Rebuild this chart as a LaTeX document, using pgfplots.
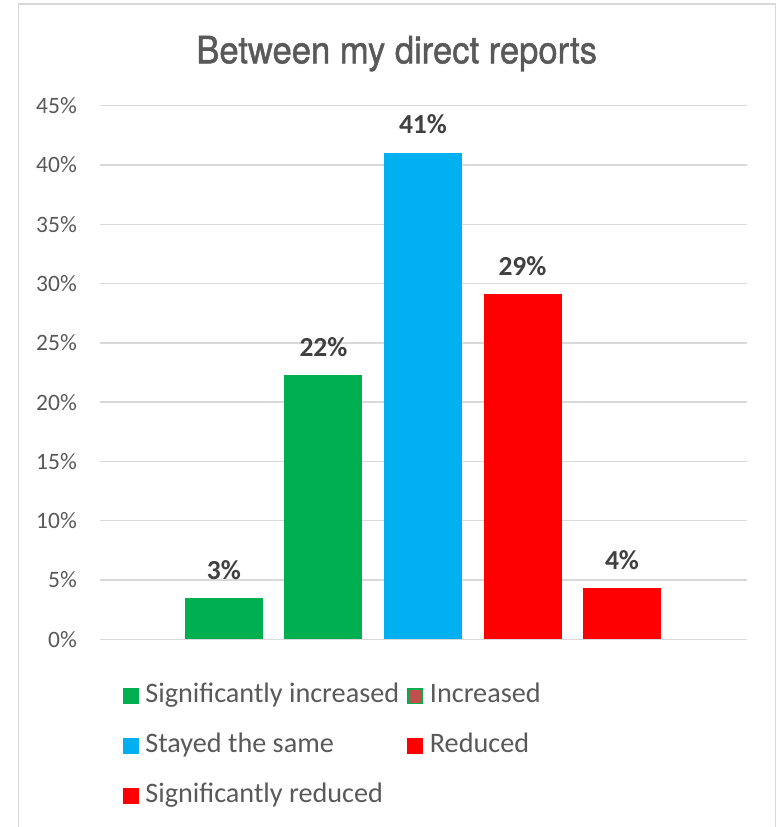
\documentclass[border=0pt]{standalone}
\usepackage{pgfplots}
\pgfplotsset{compat=1.18}
\usepackage{fontspec}
\setmainfont{Carlito}
\newfontfamily\titlefont[FakeStretch=0.92, FakeBold=1.2]{TeX Gyre Heros}
\definecolor{cgreen}{HTML}{00B050}
\definecolor{cblue}{HTML}{00B0F0}
\definecolor{cred}{HTML}{FF0000}
\definecolor{cbrown}{HTML}{C0504D}
\definecolor{gridgray}{HTML}{D9D9D9}
\definecolor{textgray}{HTML}{595959}
\definecolor{labelgray}{HTML}{404040}
\begin{document}
\begin{tikzpicture}
\path[use as bounding box] (0pt,0pt) rectangle (779pt,827pt);
\draw[color=gridgray, line width=1.5pt] (18.5pt,-10pt) -- (18.5pt,823pt) -- (775.5pt,823pt) -- (775.5pt,-10pt);
\node[anchor=base, font=\titlefont\fontsize{37.6}{40}\selectfont, text=textgray, inner sep=0pt] at (396.7pt,763.7pt) {Between my direct reports};
\begin{axis}[
  at={(100pt,187.7pt)}, anchor=south west,
  scale only axis, width=646.7pt, height=533.6pt,
  xmin=-0.246, xmax=6.253,
  ymin=0, ymax=45, ytick={0,5,...,45},
  xtick=\empty,
  ymajorgrids, grid style={line width=1.3pt, color=gridgray},
  axis line style={draw=none}, major tick length=0pt,
  /pgf/number format/assume math mode=true,
  yticklabel={\pgfmathprintnumber{\tick}\%},
  yticklabel style={font=\fontsize{23.5}{25}\selectfont, text=textgray, anchor=east, inner sep=0pt, xshift=-23pt},
  ybar, bar width=78pt, bar shift=0pt,
  nodes near coords={\pgfmathprintnumber[fixed,precision=0]{\pgfplotspointmeta}\%},
  nodes near coords style={font=\bfseries\fontsize{27.5}{29}\selectfont, text=labelgray, anchor=south, inner sep=0pt, yshift=18.5pt},
  legend image code/.code={\draw[#1, draw=none] (0pt,-8pt) rectangle (16pt,8pt);},
  legend columns=2,
  legend cell align=left,
  legend style={draw=none, fill=none, inner sep=0pt, outer sep=0pt,
    at={(0.0351,-0.0843)}, anchor=north west,
    font=\fontsize{28.2}{30}\selectfont, text=textgray,
    row sep=26pt,
    nodes={inner sep=0pt, text height=18pt, text depth=6pt},
    /tikz/every odd column/.style={column sep=6.7pt},
    /tikz/every even column/.style={column sep=8pt}},
]
\addplot[fill=cgreen, draw=none] coordinates {(1,3.45)};
\addlegendentry{Significantly increased}
\addplot[fill=cgreen, draw=none, legend image code/.code={\draw[fill=cbrown, draw=cgreen, line width=1.3pt] (0.65pt,-7.35pt) rectangle (15.35pt,7.35pt);}] coordinates {(2,22.25)};
\addlegendentry{Increased}
\addplot[fill=cblue, draw=none] coordinates {(3,41.03)};
\addlegendentry{Stayed the same}
\addplot[fill=cred, draw=none] coordinates {(4,29.1)};
\addlegendentry{Reduced}
\addplot[fill=cred, draw=none] coordinates {(5,4.3)};
\addlegendentry{Significantly reduced}
\end{axis}
\end{tikzpicture}
\end{document}
